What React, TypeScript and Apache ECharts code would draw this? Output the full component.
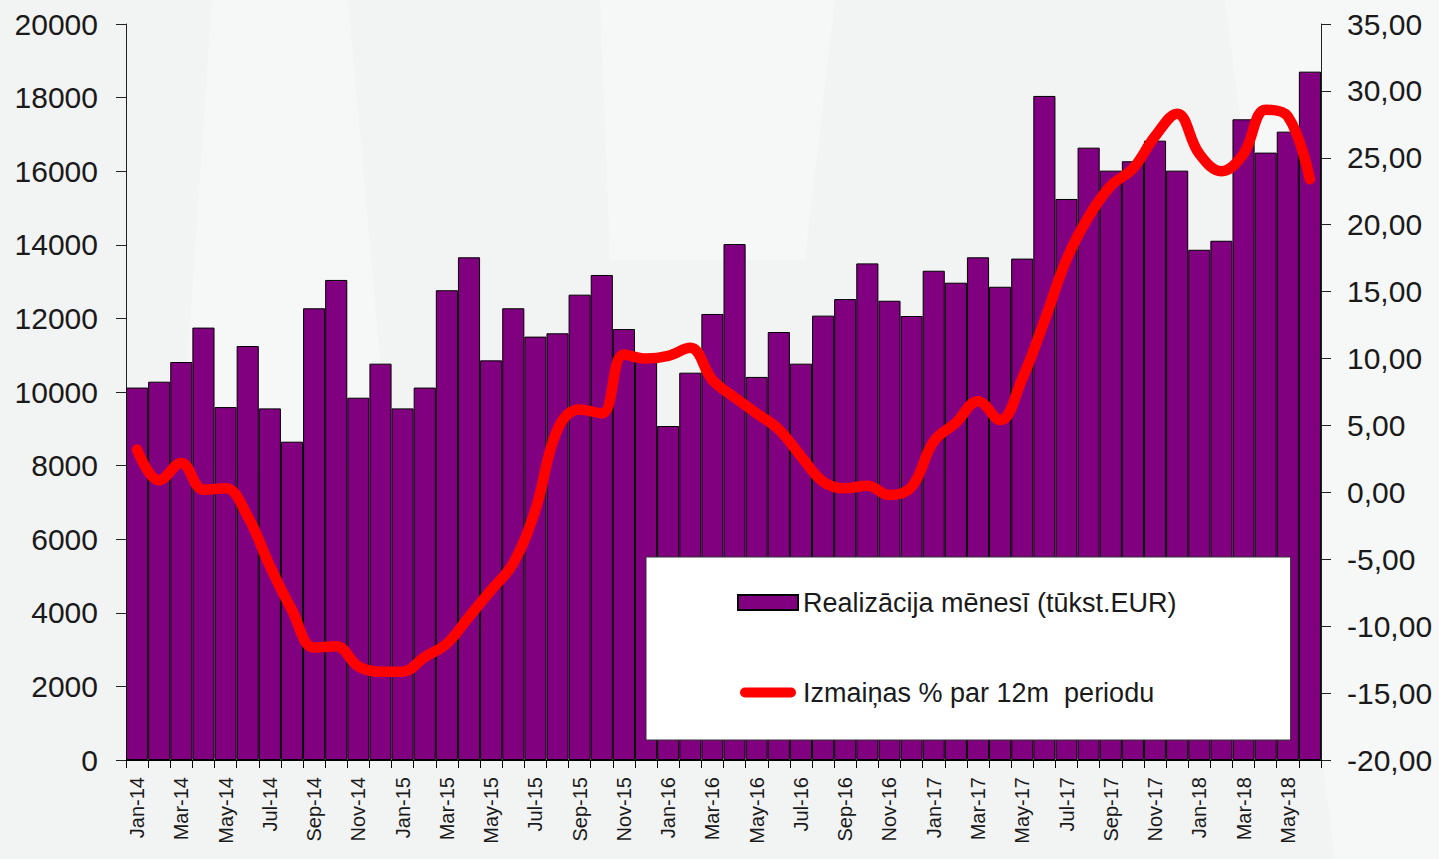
import React, { useEffect, useRef } from "react";
import * as echarts from "echarts";

const months = [
  "Jan-14","Feb-14","Mar-14","Apr-14","May-14","Jun-14","Jul-14","Aug-14","Sep-14","Oct-14","Nov-14","Dec-14",
  "Jan-15","Feb-15","Mar-15","Apr-15","May-15","Jun-15","Jul-15","Aug-15","Sep-15","Oct-15","Nov-15","Dec-15",
  "Jan-16","Feb-16","Mar-16","Apr-16","May-16","Jun-16","Jul-16","Aug-16","Sep-16","Oct-16","Nov-16","Dec-16",
  "Jan-17","Feb-17","Mar-17","Apr-17","May-17","Jun-17","Jul-17","Aug-17","Sep-17","Oct-17","Nov-17","Dec-17",
  "Jan-18","Feb-18","Mar-18","Apr-18","May-18","Jun-18",
];

const salesMonthly = [
  10120, 10280, 10815, 11750, 9590, 11250, 9555, 8650, 12275, 13045, 9845, 10770,
  9555, 10120, 12765, 13660, 10860, 12275, 11505, 11595, 12645, 13180, 11710, 11000,
  9075, 10525, 12120, 14020, 10410, 11630, 10770, 12075, 12525, 13495, 12480, 12065,
  13295, 12970, 13660, 12860, 13625, 18045, 15245, 16640, 16015, 16270, 16830, 16015,
  13865, 14110, 17410, 16505, 17075, 18705,
];

const change12m = [
  3.2, 0.9, 2.2, 0.2, 0.3, -1.8, -5.5, -8.8, -11.6, -11.5, -13.0, -13.4,
  -13.4, -12.3, -11.3, -9.3, -7.3, -5.3, -1.3, 4.7, 6.2, 5.9, 10.3, 10.0,
  10.2, 10.8, 8.4, 7.1, 5.9, 4.7, 2.7, 0.8, 0.3, 0.5, -0.2, 0.4,
  3.8, 5.2, 6.8, 5.4, 8.5, 12.8, 17.4, 20.6, 22.9, 24.2, 26.6, 28.3,
  25.3, 24.0, 25.3, 28.6, 28.1, 23.4,
];

const barName = "Realizācija mēnesī (tūkst.EUR)";
const lineName = "Izmaiņas % par 12m  periodu";

const FONT = "'Liberation Sans', Arial, sans-serif";
const TXT = "#1a1a1a";
const LINE_ICON =
  "path://M0,0 L60,0 Z M0,15 L60,15 Z M7,2.5 L53,2.5 A5,5 0 0 1 53,12.5 L7,12.5 A5,5 0 0 1 7,2.5 Z";

export default function App() {
  const ref = useRef<HTMLDivElement>(null);
  useEffect(() => {
    if (!ref.current) return;
    const chart = echarts.init(ref.current, undefined, { renderer: "svg" });
    const bgFill = "#f6f7f7";
    chart.setOption({
      animation: false,
      backgroundColor: "#f2f3f3",
      textStyle: { fontFamily: FONT },
      graphic: [
        { type: "polygon", z: -10, silent: true, shape: { points: [[212, 0], [348, 0], [390, 470], [180, 470]] }, style: { fill: bgFill } },
        { type: "polygon", z: -10, silent: true, shape: { points: [[600, 0], [835, 0], [805, 260], [610, 260]] }, style: { fill: bgFill } },
        { type: "polygon", z: -10, silent: true, shape: { points: [[1225, 0], [1439, 0], [1439, 859], [1335, 859]] }, style: { fill: bgFill } },
      ],
      grid: { left: 126, right: 118, top: 24, bottom: 99, containLabel: false },
      legend: {
        orient: "vertical",
        left: 646,
        top: 557,
        padding: [32, 114, 34, 91],
        itemGap: 63,
        itemWidth: 60,
        itemHeight: 15,
        backgroundColor: "#ffffff",
        borderColor: "#333333",
        borderWidth: 1,
        borderRadius: 0,
        selectedMode: false,
        textStyle: { fontSize: 27, color: TXT, fontFamily: FONT },
        data: [
          { name: barName, icon: "rect" },
          { name: lineName, icon: LINE_ICON, itemStyle: { color: "#ff0000", borderWidth: 0 } },
        ],
      },
      xAxis: {
        type: "category",
        data: months,
        boundaryGap: true,
        axisLine: { lineStyle: { color: "#000", width: 1 } },
        axisTick: { show: true, interval: 0, length: 8, lineStyle: { color: "#000" } },
        axisLabel: {
          interval: 1,
          rotate: 90,
          margin: 17,
          fontSize: 20,
          color: TXT,
          fontFamily: FONT,
        },
        splitLine: { show: false },
      },
      yAxis: [
        {
          type: "value",
          min: 0,
          max: 20000,
          interval: 2000,
          axisLine: { show: true, lineStyle: { color: "#222", width: 1 } },
          axisTick: { show: true, length: 10, lineStyle: { color: "#222" } },
          axisLabel: {
            margin: 28,
            fontSize: 30,
            color: TXT,
            fontFamily: FONT,
            formatter: (v: number) => String(v),
          },
          splitLine: { show: false },
        },
        {
          type: "value",
          min: -20,
          max: 35,
          interval: 5,
          position: "right",
          axisLine: { show: true, lineStyle: { color: "#222", width: 1 } },
          axisTick: { show: true, length: 10, lineStyle: { color: "#222" } },
          axisLabel: {
            margin: 26,
            fontSize: 30,
            color: TXT,
            fontFamily: FONT,
            formatter: (v: number) => v.toFixed(2).replace(".", ","),
          },
          splitLine: { show: false },
        },
      ],
      series: [
        {
          name: barName,
          type: "bar",
          yAxisIndex: 0,
          data: salesMonthly,
          barCategoryGap: "0%",
          itemStyle: { color: "#800080", borderColor: "#000", borderWidth: 1 },
        },
        {
          name: lineName,
          type: "line",
          yAxisIndex: 1,
          data: change12m,
          smooth: 0.4,
          symbol: "none",
          lineStyle: { color: "#ff0000", width: 10.5, cap: "round", join: "round" },
          itemStyle: { color: "#ff0000" },
          z: 3,
        },
      ],
    });
    return () => chart.dispose();
  }, []);
  return (
    <div
      ref={ref}
      style={{ position: "absolute", left: 0, top: 0, width: 1439, height: 859 }}
    />
  );
}
